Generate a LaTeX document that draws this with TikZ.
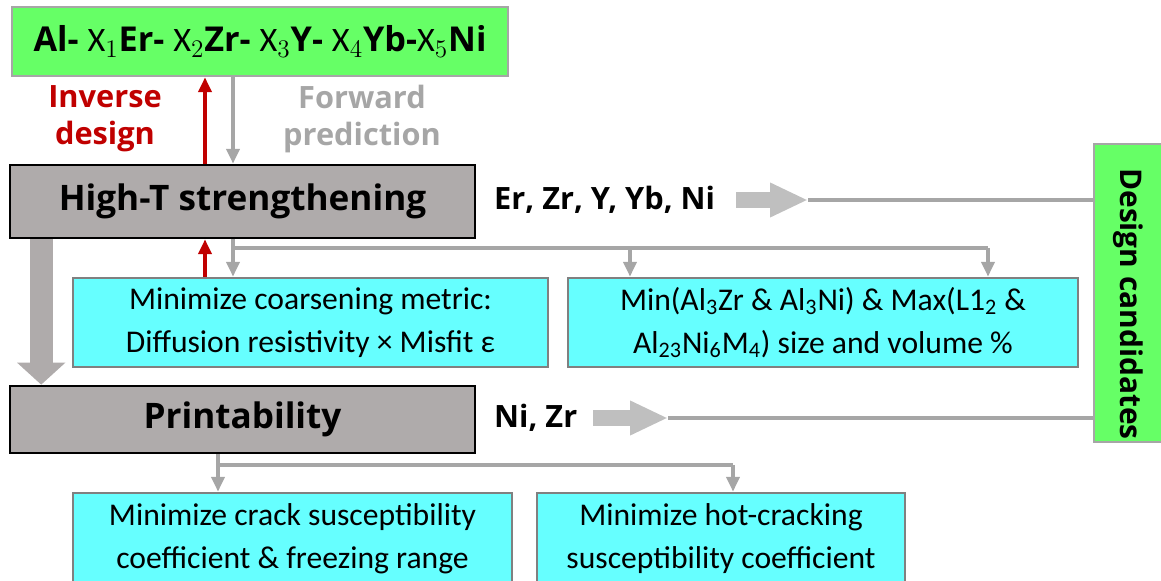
\documentclass[tikz,border=0pt]{standalone}
\usepackage{fontspec}
\setmainfont{Carlito}
\newfontfamily\labelfont{Open Sans}
\usetikzlibrary{arrows.meta,positioning}

\definecolor{boxgreen}{HTML}{66FF66}
\definecolor{boxgray}{HTML}{AFABAB}
\definecolor{boxcyan}{HTML}{66FFFF}
\definecolor{linegray}{HTML}{A6A6A6}
\definecolor{blockgray}{HTML}{BFBFBF}
\definecolor{invred}{HTML}{C00000}

\tikzset{
  greenbox/.style={draw=linegray, fill=boxgreen, line width=1.5pt, inner sep=0pt},
  stagebox/.style={draw=black, fill=boxgray, line width=1.5pt, inner sep=0pt,
    minimum width=9.3cm, font=\labelfont\bfseries\fontsize{20}{24}\selectfont},
  goalbox/.style={draw=gray, fill=boxcyan, line width=1.5pt, inner sep=0pt,
    align=center, font=\fontsize{18}{24.5}\selectfont},
  boldlabel/.style={font=\labelfont\bfseries\fontsize{17.5}{21}\selectfont, align=center},
  grayline/.style={draw=linegray, line width=2.1pt},
  grayarrow/.style={grayline, -{Triangle[length=8.5pt,width=7.5pt]}},
  redarrow/.style={draw=invred, line width=2.1pt, -{Triangle[length=8.5pt,width=7.5pt]}},
  blockarrow/.style={draw=blockgray, line width=0.32cm, -{Triangle[length=0.76cm,width=0.64cm]}},
}

\begin{document}
\begin{tikzpicture}[x=0.02cm,y=-0.02cm]
 \useasboundingbox (0,0) rectangle (1161,581);

 % alloy on top, the two design stages below it
 \node[greenbox, minimum width=9.92cm, minimum height=1.38cm,
   font=\labelfont\bfseries\fontsize{19.5}{22}\selectfont] (alloy) at (260,41.5)
   {Al- $\mathrm{X}_1$Er- $\mathrm{X}_2$Zr- $\mathrm{X}_3$Y- $\mathrm{X}_4$Yb-$\mathrm{X}_5$Ni};
 \node[stagebox, minimum height=1.46cm] (hight) at (242.5,201.5) {High-T strengthening};
 \node[stagebox, minimum height=1.34cm] (print) at (242.5,419.5) {Printability};

 % objectives
 \node[goalbox, minimum width=9.5cm, minimum height=1.78cm] (coarsen) at (310.5,322.5)
   {Minimize coarsening metric:\\Diffusion resistivity × Misfit ε};
 \node[goalbox, minimum width=10.2cm, minimum height=1.78cm] (phase) at (823,322.5)
   {Min($\mathrm{Al_3Zr}$ \& $\mathrm{Al_3Ni}$) \& Max($\mathrm{L1_2}$ \&\\$\mathrm{Al_{23}Ni_6M_4}$) size and volume \%};
 \node[goalbox, minimum width=8.78cm, minimum height=1.84cm] (crack) at (292.5,539)
   {Minimize crack susceptibility\\coefficient \& freezing range};
 \node[goalbox, minimum width=7.36cm, minimum height=1.84cm] (hotcrack) at (721,539)
   {Minimize hot-cracking\\susceptibility coefficient};

 % candidates column on the right
 \node[greenbox, minimum width=1.6cm, minimum height=5.96cm] (design) at (1134,293) {};
 \node[boldlabel, rotate=-90, font=\labelfont\bfseries\fontsize{17}{20}\selectfont]
   (designtxt) at (1128,304) {Design candidates};

 \node[boldlabel, text=invred] (inv) at (105,119) {Inverse\\design};
 \node[boldlabel, text=linegray] (fwd) at (362,119) {Forward\\prediction};
 \node[boldlabel, anchor=west] (hightel) at (488,200) {Er, Zr, Y, Yb, Ni};
 \node[boldlabel, anchor=west] (printel) at (488,418) {Ni, Zr};

 \coordinate (invx) at (205,0);
 \coordinate (fwdx) at (233,0);
 \draw[redarrow] (hight.north -| invx) -- (alloy.south -| invx);
 \draw[grayarrow] (alloy.south -| fwdx) -- (hight.north -| fwdx);
 \draw[redarrow] (coarsen.north -| invx) -- (hight.south -| invx);

 % split below high-T strengthening
 \coordinate (hsplit) at (233,248);
 \coordinate (hmid) at (630,248);
 \coordinate (hend) at (988,248);
 \draw[grayline] (hight.south -| hsplit) -- (hsplit) -- (hend);
 \draw[grayarrow] (hsplit) -- (coarsen.north -| hsplit);
 \draw[grayarrow] (hmid) -- (phase.north -| hmid);
 \draw[grayarrow] (hend) -- (phase.north -| hend);

 % split below printability
 \coordinate (psplit) at (218,465);
 \coordinate (pend) at (733,465);
 \draw[grayline] (print.south -| psplit) -- (psplit) -- (pend);
 \draw[grayarrow] (psplit) -- (crack.north -| psplit);
 \draw[grayarrow] (pend) -- (hotcrack.north -| pend);

 % stage to stage
 \draw[draw=boxgray, line width=0.46cm, -{Triangle[length=0.44cm,width=0.94cm]}]
   ([xshift=0.65cm]hight.south west) -- ([xshift=0.65cm]print.north west);

 % elements passed on to the candidates
 \coordinate (htip) at (808,200);
 \coordinate (ptip) at (668,418);
 \draw[blockarrow] ([xshift=0.3cm]hightel.east) -- (htip);
 \draw[grayline] (htip) -- (htip -| design.west);
 \draw[blockarrow] ([xshift=0.2cm]printel.east) -- (ptip);
 \draw[grayline] (ptip) -- (ptip -| design.west);
\end{tikzpicture}
\end{document}
